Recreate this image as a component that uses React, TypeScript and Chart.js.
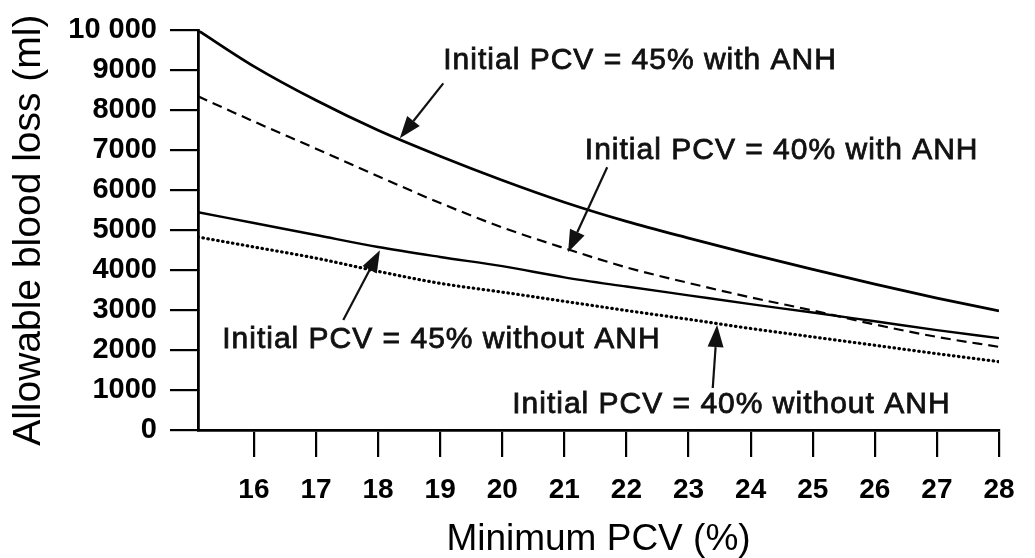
import React, { useEffect, useRef } from "react";
import { Chart, registerables } from "chart.js";

Chart.register(...registerables);

// Minimum PCV (%) sample points
const xValues = [15.1, 16, 17, 18, 19, 20, 21, 22, 23, 24, 25, 26, 27, 28];
// Allowable blood loss (ml)
const pcv45WithANH = [10000, 9100, 8250, 7500, 6850, 6250, 5700, 5220, 4800, 4400, 4020, 3650, 3300, 2980];
const pcv40WithANH = [8350, 7720, 7040, 6350, 5680, 5070, 4550, 4070, 3680, 3320, 2990, 2640, 2330, 2080];
const pcv45WithoutANH = [5450, 5180, 4880, 4580, 4330, 4100, 3820, 3590, 3370, 3150, 2940, 2720, 2500, 2300];
const pcv40WithoutANH = [4830, 4580, 4300, 3970, 3670, 3450, 3220, 2990, 2770, 2540, 2330, 2120, 1910, 1710];

const xTicks = [16, 17, 18, 19, 20, 21, 22, 23, 24, 25, 26, 27, 28];
const yTicks = [0, 1000, 2000, 3000, 4000, 5000, 6000, 7000, 8000, 9000, 10000];

// Callout labels (data units)
const annotationTexts = [
  "Initial PCV = 45% with ANH",
  "Initial PCV = 40% with ANH",
  "Initial PCV = 45% without ANH",
  "Initial PCV = 40% without ANH",
];
const annotationTextX = [19.05, 21.33, 15.49, 20.16];
const annotationTextY = [9250, 7000, 2250, 625];
const arrowFromX = [19.05, 21.69, 17.44, 23.39];
const arrowFromY = [8675, 6575, 2750, 1050];
const arrowToX = [18.35, 21.06, 18.03, 23.46];
const arrowToY = [7300, 4450, 4500, 2625];

const toPoints = (ys: number[]) => ys.map((y, i) => ({ x: xValues[i], y }));

const annotationPlugin = {
  id: "callouts",
  afterDatasetsDraw(chart: any) {
    const { ctx, scales } = chart;
    const xs = scales.x;
    const ys = scales.y;
    ctx.save();
    ctx.fillStyle = "#111";
    ctx.strokeStyle = "#111";
    ctx.font = "30px 'Liberation Sans', Arial, sans-serif";
    (ctx as any).letterSpacing = "1px";
    ctx.textBaseline = "middle";
    ctx.textAlign = "left";
    annotationTexts.forEach((t, i) => {
      const tx = xs.getPixelForValue(annotationTextX[i]);
      const ty = ys.getPixelForValue(annotationTextY[i]);
      ctx.lineWidth = 0.8;
      ctx.fillText(t, tx, ty);
      ctx.strokeText(t, tx, ty);
      const x0 = xs.getPixelForValue(arrowFromX[i]);
      const y0 = ys.getPixelForValue(arrowFromY[i]);
      const x1 = xs.getPixelForValue(arrowToX[i]);
      const y1 = ys.getPixelForValue(arrowToY[i]);
      const ang = Math.atan2(y1 - y0, x1 - x0);
      const headLen = 22;
      const headHalf = 8;
      const bx = x1 - headLen * Math.cos(ang);
      const by = y1 - headLen * Math.sin(ang);
      ctx.lineWidth = 2.2;
      ctx.beginPath();
      ctx.moveTo(x0, y0);
      ctx.lineTo(bx, by);
      ctx.stroke();
      ctx.beginPath();
      ctx.moveTo(x1, y1);
      ctx.lineTo(bx + headHalf * Math.sin(ang), by - headHalf * Math.cos(ang));
      ctx.lineTo(bx - headHalf * Math.sin(ang), by + headHalf * Math.cos(ang));
      ctx.closePath();
      ctx.fill();
    });
    ctx.restore();
  },
};

export default function App() {
  const canvasRef = useRef<HTMLCanvasElement | null>(null);

  useEffect(() => {
    document.body.style.margin = "0";
    const canvas = canvasRef.current;
    if (!canvas) return;
    const family = "'Liberation Sans', Arial, sans-serif";
    const chart = new Chart(canvas, {
      type: "line",
      data: {
        datasets: [
          {
            label: "Initial PCV = 45% with ANH",
            data: toPoints(pcv45WithANH),
            borderColor: "#000",
            borderWidth: 2.8,
            pointRadius: 0,
            cubicInterpolationMode: "monotone",
          },
          {
            label: "Initial PCV = 40% with ANH",
            data: toPoints(pcv40WithANH),
            borderColor: "#000",
            borderWidth: 2.2,
            borderDash: [10, 6],
            pointRadius: 0,
            cubicInterpolationMode: "monotone",
          },
          {
            label: "Initial PCV = 45% without ANH",
            data: toPoints(pcv45WithoutANH),
            borderColor: "#000",
            borderWidth: 2.4,
            pointRadius: 0,
            cubicInterpolationMode: "monotone",
          },
          {
            label: "Initial PCV = 40% without ANH",
            data: toPoints(pcv40WithoutANH),
            borderColor: "#000",
            borderWidth: 3.2,
            borderDash: [0.5, 4.5],
            borderCapStyle: "round",
            pointRadius: 0,
            cubicInterpolationMode: "monotone",
          },
        ],
      },
      options: {
        animation: false,
        responsive: false,
        layout: { padding: { top: 30, right: 36, left: 0, bottom: 0 } },
        plugins: { legend: { display: false }, tooltip: { enabled: false } },
        scales: {
          x: {
            type: "linear",
            min: 15.1,
            max: 28,
            afterBuildTicks: (scale: any) => {
              scale.ticks = xTicks.map((v) => ({ value: v }));
            },
            afterFit: (scale: any) => {
              scale.height = 128;
            },
            grid: {
              drawOnChartArea: false,
              drawTicks: true,
              tickLength: 27,
              color: "#000",
              lineWidth: 2.2,
            },
            border: { display: true, color: "#000", width: 2.8 },
            ticks: {
              color: "#000",
              padding: 16,
              maxRotation: 0,
              autoSkip: false,
              font: { family, size: 28, weight: "bold" },
            },
            title: {
              display: true,
              text: "Minimum PCV (%)",
              color: "#000",
              font: { family, size: 37, lineHeight: 1 },
              padding: { top: 0, bottom: 0 },
            },
          },
          y: {
            type: "linear",
            min: 0,
            max: 10000,
            afterBuildTicks: (scale: any) => {
              scale.ticks = yTicks.map((v) => ({ value: v }));
            },
            afterFit: (scale: any) => {
              scale.width = 198;
            },
            grid: {
              drawOnChartArea: false,
              drawTicks: true,
              tickLength: 28,
              color: "#000",
              lineWidth: 2.2,
            },
            border: { display: true, color: "#000", width: 2.8 },
            ticks: {
              color: "#000",
              padding: 13,
              autoSkip: false,
              font: { family, size: 29, weight: "bold" },
              callback: (v: any) => (Number(v) === 10000 ? "10 000" : String(v)),
            },
            title: {
              display: true,
              text: "Allowable blood loss (ml)",
              color: "#000",
              font: { family, size: 39, lineHeight: 1 },
              padding: { top: 10, bottom: 0 },
            },
          },
        },
      },
      plugins: [annotationPlugin],
    } as any);
    return () => chart.destroy();
  }, []);

  return (
    <div style={{ width: 1035, height: 558, background: "#fff" }}>
      <canvas ref={canvasRef} width={1035} height={558} style={{ display: "block" }} />
    </div>
  );
}
